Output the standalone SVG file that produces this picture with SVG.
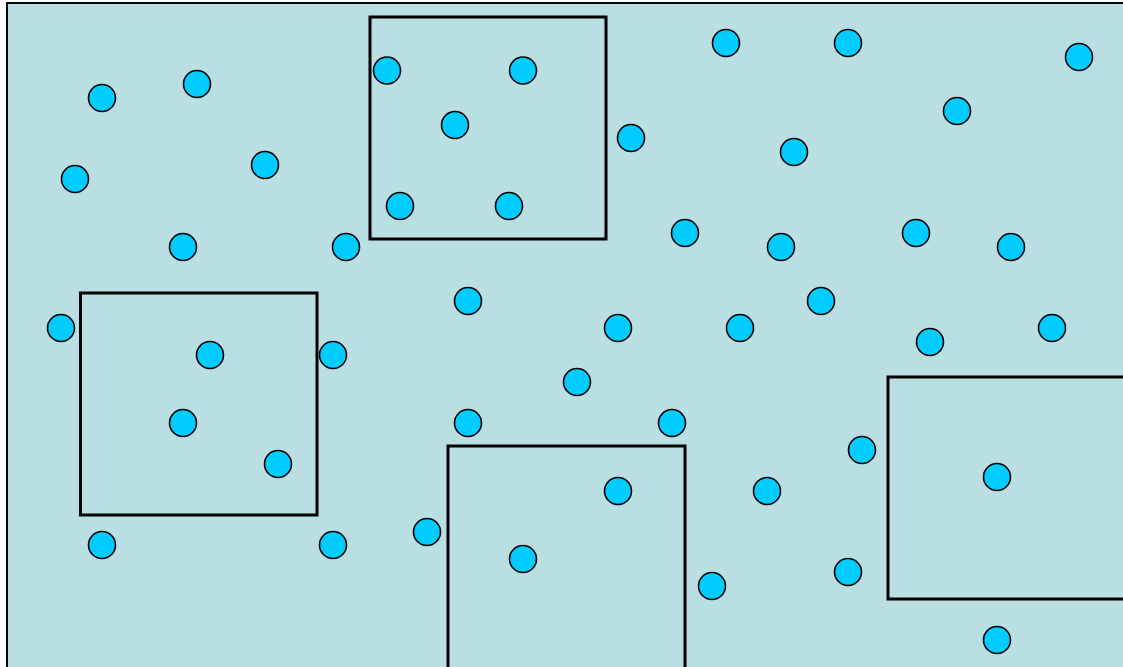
<svg xmlns="http://www.w3.org/2000/svg" width="1123" height="667" viewBox="0 0 1123 667">
<style>
.bg{fill:#BADFE3;stroke:#000;stroke-width:2}
.box{fill:none;stroke:#000;stroke-width:3}
.d{fill:#00CCFF;stroke:#000;stroke-width:1.6}
</style>
<rect width="1123" height="667" fill="#fff"/>
<rect class="bg" x="7" y="3" width="1130" height="680"/>
<g id="boxes">
<rect id="box1" class="box" x="370" y="17" width="236" height="222"/>
<rect id="box2" class="box" x="80.5" y="293" width="236.5" height="222"/>
<rect id="box3" class="box" x="448" y="446" width="237" height="230"/>
<rect id="box4" class="box" x="888" y="377" width="245" height="222"/>
</g>
<g id="dots">
<circle class="d" cx="102" cy="98" r="13.5"/>
<circle class="d" cx="197" cy="84" r="13.5"/>
<circle class="d" cx="265" cy="165" r="13.5"/>
<circle class="d" cx="75" cy="179" r="13.5"/>
<circle class="d" cx="183" cy="247" r="13.5"/>
<circle class="d" cx="346" cy="247" r="13.5"/>
<circle class="d" cx="387" cy="70.5" r="13.5"/>
<circle class="d" cx="523" cy="70.5" r="13.5"/>
<circle class="d" cx="455" cy="125" r="13.5"/>
<circle class="d" cx="400" cy="206" r="13.5"/>
<circle class="d" cx="509" cy="206" r="13.5"/>
<circle class="d" cx="631" cy="138" r="13.5"/>
<circle class="d" cx="726" cy="43" r="13.5"/>
<circle class="d" cx="848" cy="43" r="13.5"/>
<circle class="d" cx="1079" cy="57" r="13.5"/>
<circle class="d" cx="957" cy="111" r="13.5"/>
<circle class="d" cx="794" cy="152" r="13.5"/>
<circle class="d" cx="685" cy="233" r="13.5"/>
<circle class="d" cx="781" cy="247" r="13.5"/>
<circle class="d" cx="916" cy="233" r="13.5"/>
<circle class="d" cx="1011" cy="247" r="13.5"/>
<circle class="d" cx="61" cy="328" r="13.5"/>
<circle class="d" cx="210" cy="355" r="13.5"/>
<circle class="d" cx="333" cy="355" r="13.5"/>
<circle class="d" cx="183" cy="423" r="13.5"/>
<circle class="d" cx="278" cy="464" r="13.5"/>
<circle class="d" cx="468" cy="301" r="13.5"/>
<circle class="d" cx="618" cy="328" r="13.5"/>
<circle class="d" cx="740" cy="328" r="13.5"/>
<circle class="d" cx="821" cy="301" r="13.5"/>
<circle class="d" cx="930" cy="342" r="13.5"/>
<circle class="d" cx="1052" cy="328" r="13.5"/>
<circle class="d" cx="577" cy="382" r="13.5"/>
<circle class="d" cx="468" cy="423" r="13.5"/>
<circle class="d" cx="672" cy="423" r="13.5"/>
<circle class="d" cx="862" cy="450" r="13.5"/>
<circle class="d" cx="618" cy="491" r="13.5"/>
<circle class="d" cx="767" cy="491" r="13.5"/>
<circle class="d" cx="997" cy="477" r="13.5"/>
<circle class="d" cx="102" cy="545" r="13.5"/>
<circle class="d" cx="333" cy="545" r="13.5"/>
<circle class="d" cx="427" cy="532" r="13.5"/>
<circle class="d" cx="523" cy="559" r="13.5"/>
<circle class="d" cx="712" cy="586" r="13.5"/>
<circle class="d" cx="848" cy="572" r="13.5"/>
<circle class="d" cx="997" cy="640" r="13.5"/>
</g>
</svg>
